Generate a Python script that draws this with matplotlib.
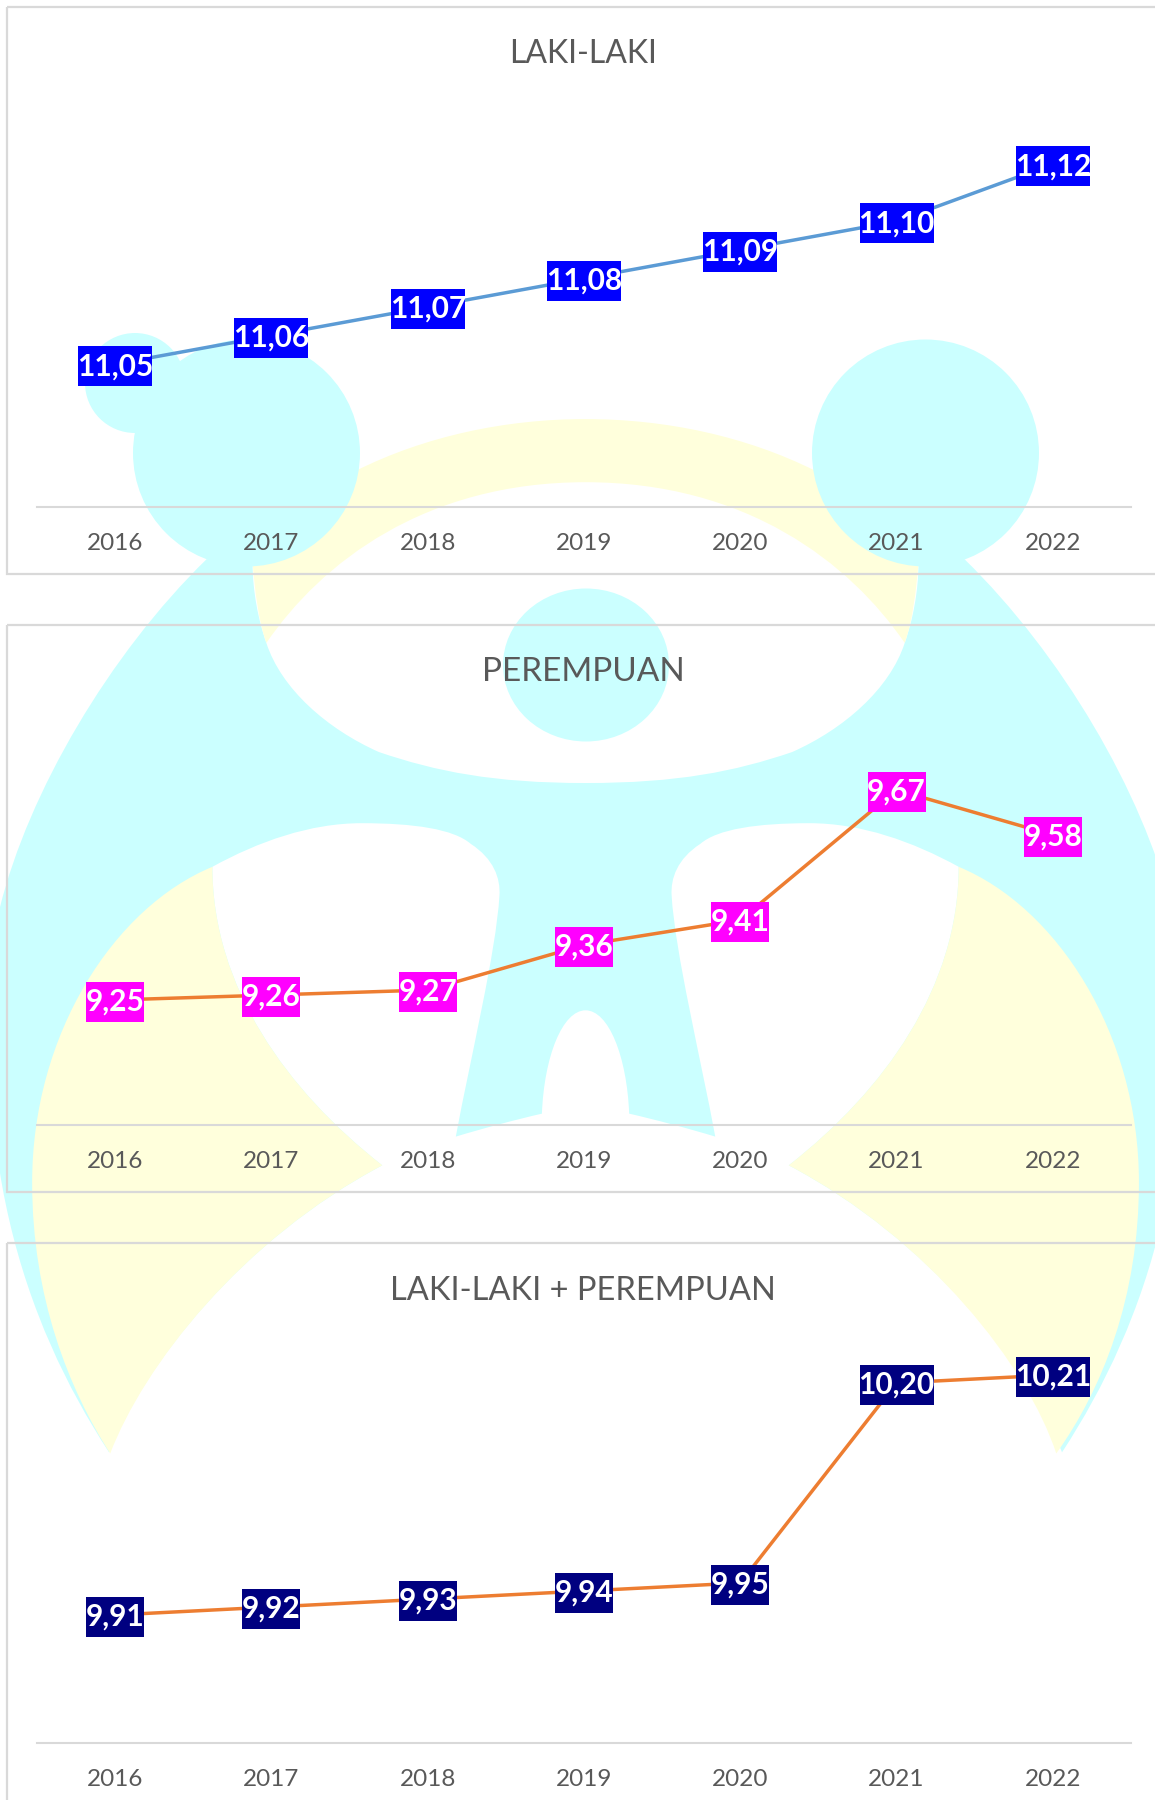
import matplotlib
matplotlib.use("Agg")
import matplotlib.pyplot as plt
from matplotlib.patches import Circle, Ellipse, PathPatch, Rectangle
from matplotlib.path import Path

plt.rcParams['font.family'] = ['Lato', 'DejaVu Sans']

years = ['2016', '2017', '2018', '2019', '2020', '2021', '2022']
laki = [11.05, 11.06, 11.07, 11.08, 11.09, 11.10, 11.12]
perempuan = [9.25, 9.26, 9.27, 9.36, 9.41, 9.67, 9.58]
gabungan = [9.91, 9.92, 9.93, 9.94, 9.95, 10.20, 10.21]

W, H = 1155, 1800
S = 1155 / 1006  # logo outline
MID = 510
CYAN = '#CBFFFF'
YELLOW = '#FFFFDC'
BORDER = '#D9D9D9'
TEXT = '#595959'


def smooth(start, segs):
    # segs: (c1, c2, end) bezier pieces
    verts = [start]
    codes = [Path.MOVETO]
    for c1, c2, end in segs:
        verts += [c1, c2, end]
        codes += [Path.CURVE4] * 3
    return verts, codes


def mirrored(start, segs):
    # walk the left half, then come back along the right half
    pts = [start]
    for c1, c2, end in segs:
        pts += [c1, c2, end]
    back = [(2 * MID - x, y) for x, y in reversed(pts)]
    return pts, back


def add_shape(ax, verts, codes, color, z):
    v = [(x * S, y * S) for x, y in verts]
    ax.add_patch(PathPatch(Path(v, codes), fc=color, ec='none', zorder=z))


def draw_logo(ax):
    # cyan body, from the bottom of the eye round the left side to the legs
    body_left = [
        ((430, 682), (380, 672), (330, 655)),
        ((285, 635), (245, 600), (232, 560)),
        ((225, 540), (220, 515), (220, 490)),
        ((207, 489), (193, 488), (180, 487)),
        ((95, 570), (25, 690), (0, 790)),
        ((-30, 1000), (20, 1150), (95, 1265)),
        ((125, 1190), (210, 1080), (333, 1015)),
        ((250, 950), (185, 860), (185, 755)),
        ((225, 733), (270, 717), (315, 717)),
        ((360, 717), (395, 722), (410, 735)),
        ((430, 748), (436, 765), (435, 780)),
        ((432, 830), (410, 920), (397, 990)),
        ((420, 983), (450, 975), (472, 970)),
        ((474, 920), (490, 880), (510, 880)),
    ]
    pts, back = mirrored((510, 682), body_left)
    verts = pts + back[1:]
    codes = [Path.MOVETO] + [Path.CURVE4] * (len(verts) - 1)
    add_shape(ax, verts, codes, CYAN, 1)

    # yellow arc over the eye
    arc_left = [
        ((225, 540), (222, 515), (220, 490)),
        ((245, 450), (280, 425), (310, 410)),
        ((370, 380), (440, 365), (510, 365)),
    ]
    pts, back = mirrored((232, 560), arc_left)
    inner = [(2 * MID - 232, 560), (2 * MID - 280, 490), (2 * MID - 370, 420), (510, 420),
             (370, 420), (280, 490), (232, 560)]
    verts = pts + back[1:] + inner[1:]
    codes = [Path.MOVETO] + [Path.CURVE4] * (len(verts) - 1)
    add_shape(ax, verts, codes, YELLOW, 2)

    # yellow crescents, left then right (right tip sits a little further in)
    crescent = [
        ((100, 790), (28, 900), (28, 1030)),
        ((28, 1130), (60, 1210), (96, 1266)),
        ((125, 1190), (210, 1080), (333, 1015)),
        ((250, 950), (185, 860), (185, 755)),
    ]
    verts, codes = smooth((185, 755), crescent)
    add_shape(ax, verts, codes, YELLOW, 2)
    right = [(2 * MID - x, y) for x, y in verts]
    right[6] = (920, 1266)
    add_shape(ax, right, codes, YELLOW, 2)

    ax.add_patch(Circle((135, 383), 50, fc=CYAN, ec='none', zorder=3))
    ax.add_patch(Circle((246.5, 453), 113.5, fc=CYAN, ec='none', zorder=3))
    ax.add_patch(Circle((925.5, 453), 113.5, fc=CYAN, ec='none', zorder=3))
    ax.add_patch(Ellipse((586, 665), 166, 153, fc=CYAN, ec='none', zorder=3))


def fixed_box(w, h):
    # label boxes have a set size in pixels whatever the text measures
    def style(x0, y0, width, height, mutation_size):
        cx, cy = x0 + width / 2, y0 + height / 2
        return Path([(cx - w / 2, cy - h / 2), (cx + w / 2, cy - h / 2),
                     (cx + w / 2, cy + h / 2), (cx - w / 2, cy + h / 2),
                     (cx - w / 2, cy - h / 2)], closed=True)
    return style


def panel(frame_top, frame_bottom, axis_y, title, title_y, title_size, values, ylim, line_color, box_color):
    ax = fig.add_axes([37 / W, 1 - axis_y / H, 1094 / W, 400 / H], zorder=5)
    ax.patch.set_alpha(0)
    ax.plot(range(len(years)), values, color=line_color, lw=2.5, solid_capstyle='round', zorder=2)
    ax.set_xlim(-0.5, 6.5)
    ax.set_ylim(*ylim)
    ax.set_yticks([])
    ax.set_xticks(range(len(years)))
    ax.set_xticklabels(years, fontsize=17.5, color=TEXT)
    ax.tick_params(axis='x', length=0, pad=19)
    for side in ['top', 'left', 'right']:
        ax.spines[side].set_visible(False)
    ax.spines['bottom'].set_color(BORDER)
    ax.spines['bottom'].set_linewidth(1.5)

    for i, v in enumerate(values):
        label = f"{v:.2f}".replace('.', ',')
        box_w = 74 if len(label) == 5 else 58
        ax.annotate(label, (i, v), xytext=(0, -1.5), textcoords='offset points', ha='center', va='center',
                    fontsize=21.5, fontweight='bold', color='white', zorder=4, annotation_clip=False,
                    bbox=dict(boxstyle=fixed_box(box_w, 40), fc=box_color, ec='none'))

    bg.add_patch(Rectangle((7, frame_top), W + 20, frame_bottom - frame_top, fc='none',
                           ec=BORDER, lw=1.6, zorder=4))
    bg.text(583, title_y, title, ha='center', va='center', fontsize=title_size, color=TEXT, zorder=5)


fig = plt.figure(figsize=(W / 100, H / 100), dpi=100, facecolor='white')
bg = fig.add_axes([0, 0, 1, 1], zorder=0)
bg.set_xlim(0, W)
bg.set_ylim(H, 0)
bg.axis('off')
draw_logo(bg)

panel(7, 574, 507, 'LAKI-LAKI', 54, 23, laki, (11.00, 11.14), '#5B9BD5', '#0000FF')
panel(625, 1192, 1125, 'PEREMPUAN', 672, 24, perempuan, (9.0, 9.8), '#ED7D31', '#FF00FF')
panel(1243, 1815, 1743, 'LAKI-LAKI + PEREMPUAN', 1291, 23.5, gabungan, (9.75, 10.25), '#ED7D31', '#000080')

fig.savefig('out.png', dpi=100)
